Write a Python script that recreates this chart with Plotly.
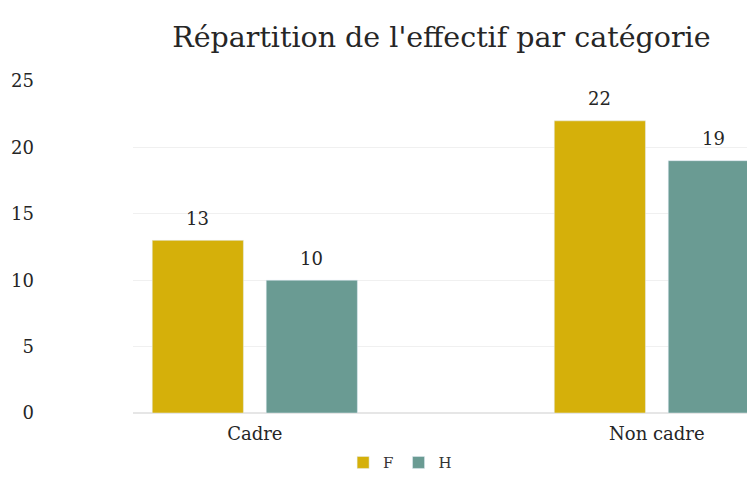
import plotly.graph_objects as go

categories = ["Cadre", "Non cadre"]
femmes = [13, 22]
hommes = [10, 19]

font_family = "DejaVu Serif"
colors = {"F": "#D5B00A", "H": "#6A9B93"}

fig = go.Figure()
for name, values in (("F", femmes), ("H", hommes)):
    fig.add_trace(
        go.Bar(
            name=name,
            x=categories,
            y=values,
            marker_color=colors[name],
            cliponaxis=True,
        )
    )

# value labels above the bars (offset within the group by half a slot)
for shift, values in ((-57, femmes), (57, hommes)):
    for cat, v in zip(categories, values):
        fig.add_annotation(
            x=cat,
            y=v,
            text=str(v),
            showarrow=False,
            xshift=shift,
            yshift=22,
            yanchor="middle",
            font=dict(size=18, color="#262626"),
        )

fig.update_layout(
    width=755,
    height=499,
    margin=dict(l=125, r=0, t=73, b=94),
    paper_bgcolor="white",
    plot_bgcolor="white",
    font=dict(family=font_family, color="#333333"),
    title=dict(
        text="Répartition de l'effectif par catégorie",
        x=0.574,
        xanchor="center",
        y=0.942,
        yanchor="middle",
        font=dict(size=28.5, color="#262626"),
    ),
    barmode="group",
    bargap=0.433,
    bargroupgap=0.2,
    legend=dict(
        orientation="h",
        x=0.424,
        xanchor="center",
        y=-0.10,
        yanchor="top",
        font=dict(size=15, color="#333333"),
        itemwidth=30,
    ),
    xaxis=dict(
        range=[-0.303, 1.264],
        showgrid=False,
        showline=False,
        ticks="",
        ticklabelstandoff=8,
        tickfont=dict(size=18, color="#262626"),
    ),
    yaxis=dict(
        range=[0, 25],
        dtick=5,
        showgrid=True,
        gridcolor="#F0F0F0",
        zeroline=True,
        zerolinecolor="#E6E6E6",
        ticks="",
        ticklabelstandoff=98,
        tickfont=dict(size=18, color="#262626"),
    ),
)

fig.write_html("out.html")
